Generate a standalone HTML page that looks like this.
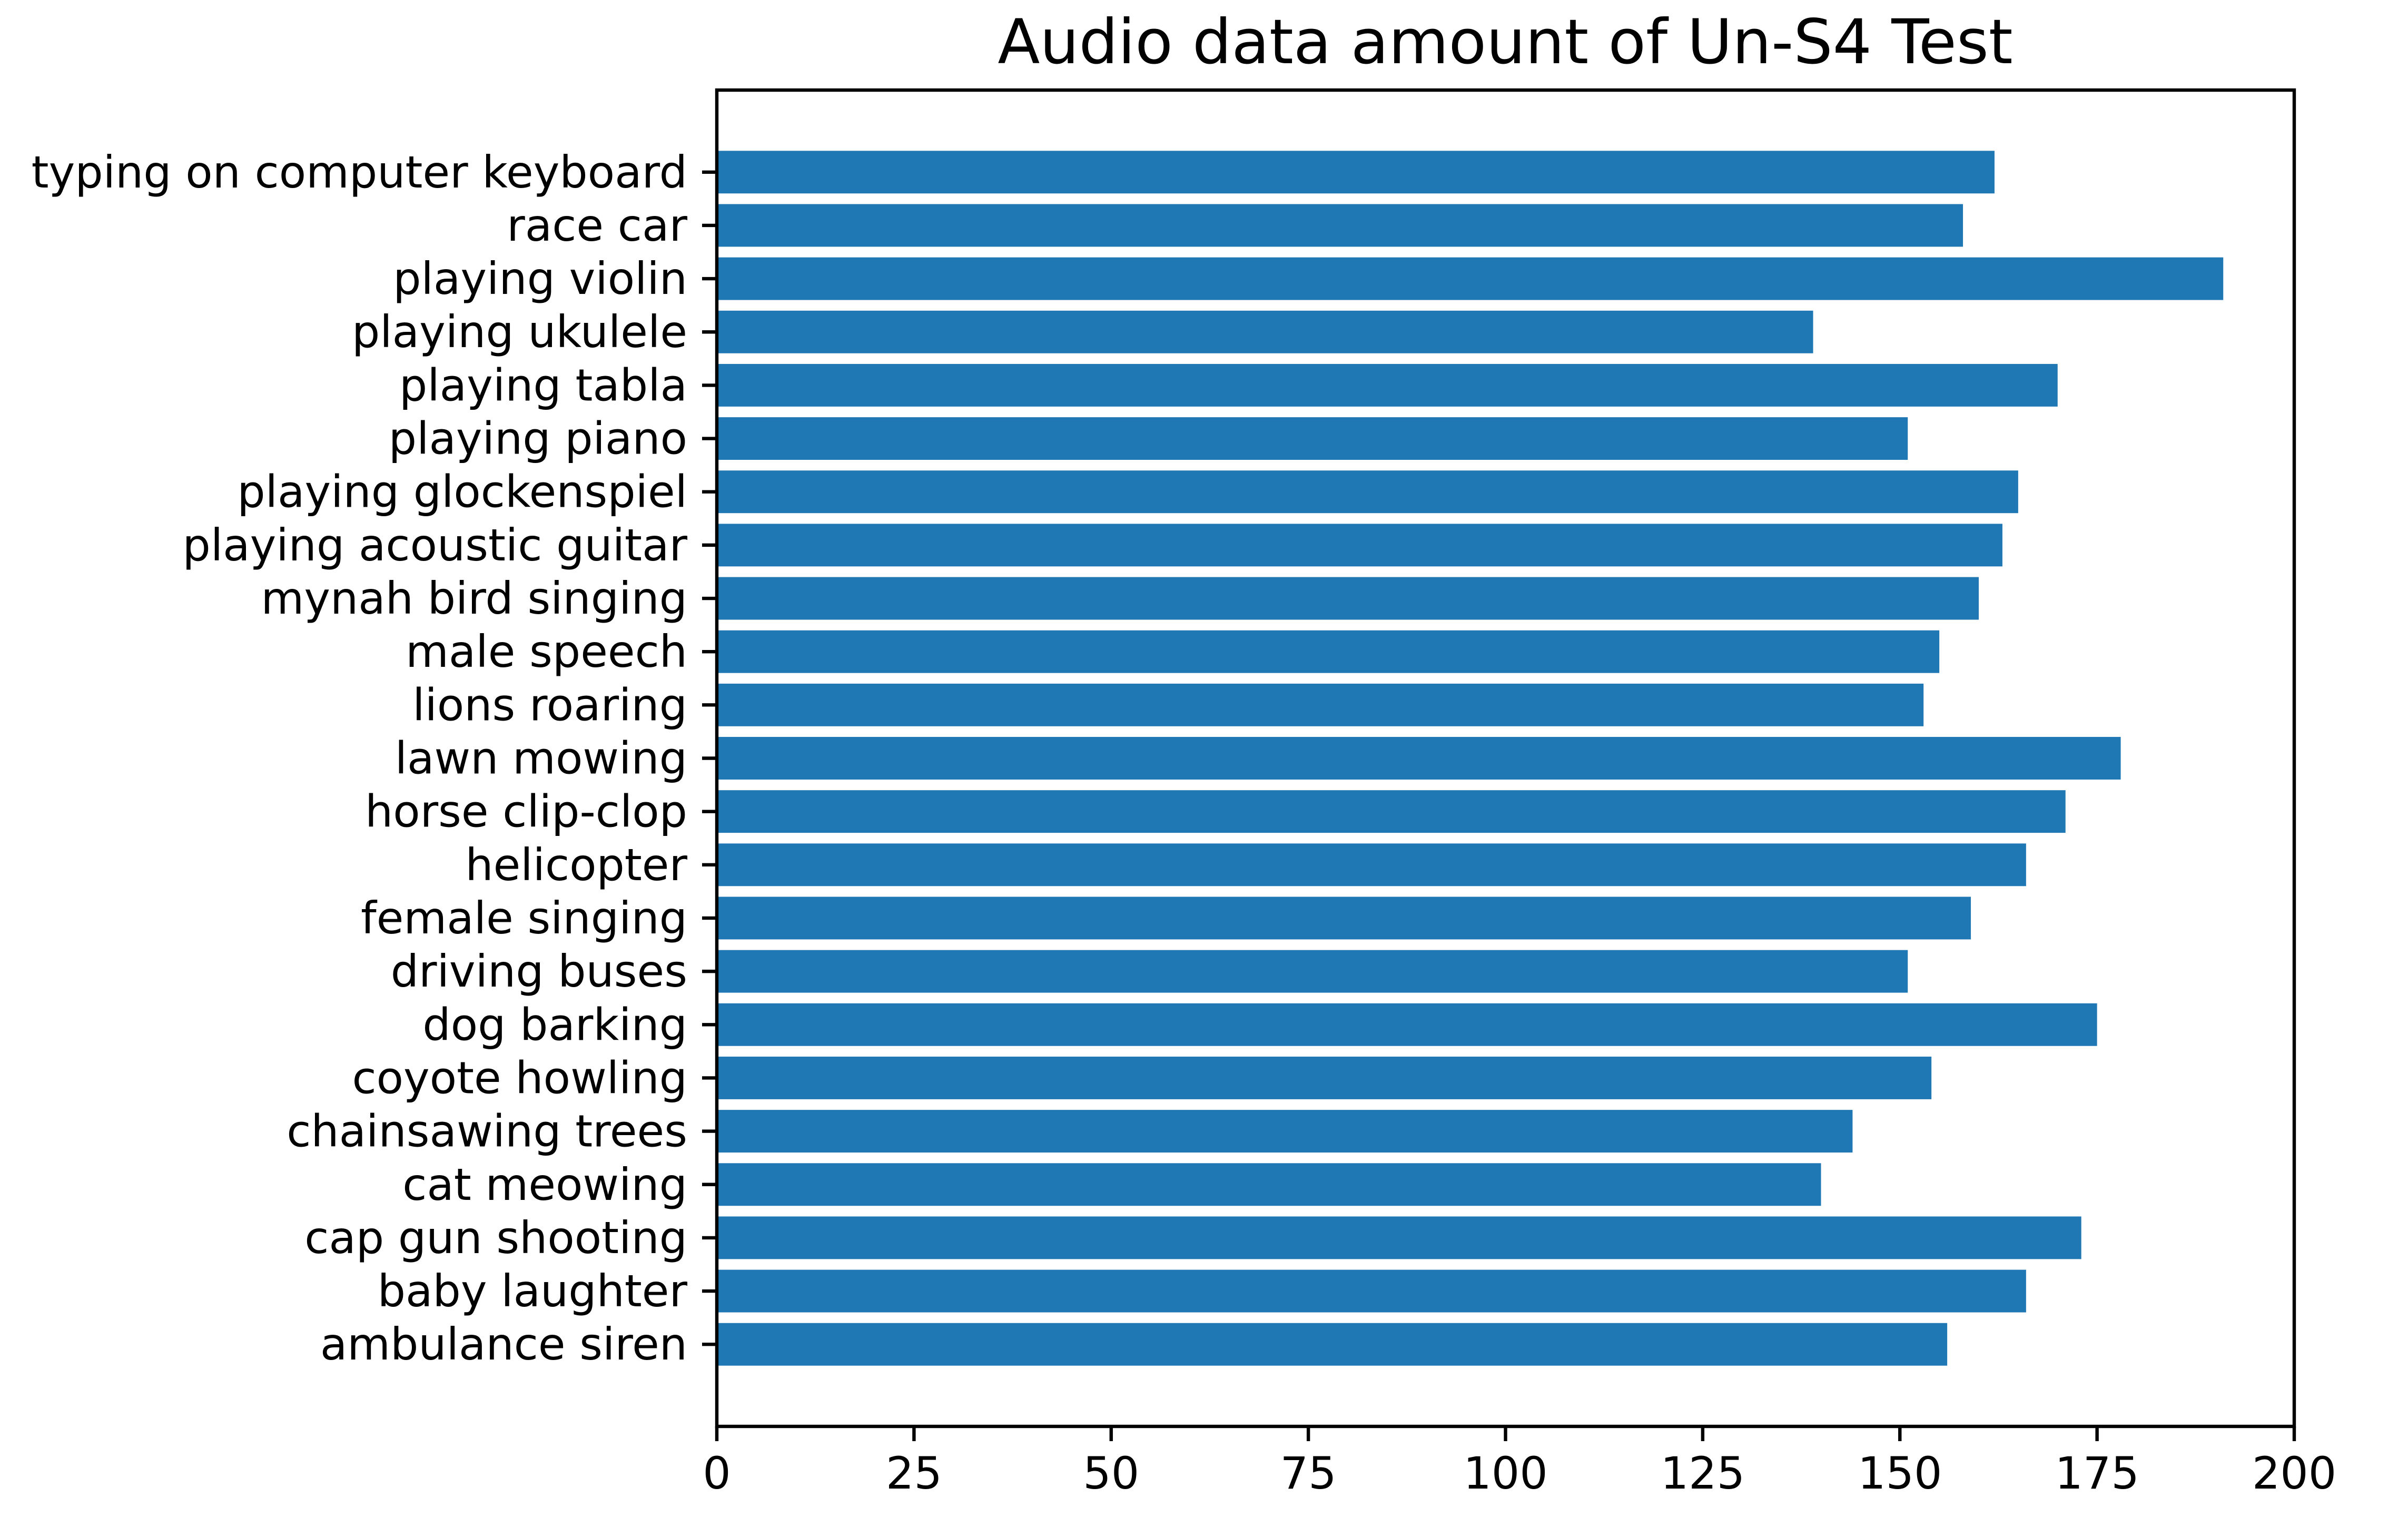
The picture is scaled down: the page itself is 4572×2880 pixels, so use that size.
<!DOCTYPE html>
<html><head><meta charset="utf-8">
<style>html,body{margin:0;padding:0;background:#fff}svg{display:block}</style>
</head><body>
<svg id="chart" width="4572" height="2880" viewBox="0 0 4572 2880" xmlns="http://www.w3.org/2000/svg" font-family="'DejaVu Sans','Liberation Sans',sans-serif">
<rect x="0" y="0" width="4572" height="2880" fill="#fff"/>
<text x="2858" y="120" font-size="117" text-anchor="middle" fill="#000">Audio data amount of Un-S4 Test</text>
<g id="bars"></g>
<g id="yticks"></g>
<g id="xticks"></g>
<rect x="1361" y="171" width="2995" height="2537" fill="none" stroke="#000" stroke-width="6.4"/>
</svg>
<script>
const categories = ["ambulance siren","baby laughter","cap gun shooting","cat meowing","chainsawing trees","coyote howling","dog barking","driving buses","female singing","helicopter","horse clip-clop","lawn mowing","lions roaring","male speech","mynah bird singing","playing acoustic guitar","playing glockenspiel","playing piano","playing tabla","playing ukulele","playing violin","race car","typing on computer keyboard"];
const values = [156,166,173,140,144,154,175,151,159,166,171,178,153,155,160,163,165,151,170,139,191,158,162];
const xTicks = [0,25,50,75,100,125,150,175,200];

const NS = "http://www.w3.org/2000/svg";
const L = 1361, R = 4356, T = 171, B = 2708;
const xMin = 0, xMax = 200;
const n = categories.length;
const yMin = -0.4 - 0.05 * (n - 1 + 0.8), yMax = (n - 1) + 0.4 + 0.05 * (n - 1 + 0.8);
function sx(v){ return L + (v - xMin) / (xMax - xMin) * (R - L); }
function sy(v){ return B - (v - yMin) / (yMax - yMin) * (B - T); }
function mk(tag, attrs, parent){ const e = document.createElementNS(NS, tag); for (const k in attrs) e.setAttribute(k, attrs[k]); parent.appendChild(e); return e; }

const gb = document.getElementById('bars');
const gy = document.getElementById('yticks');
const gx = document.getElementById('xticks');

categories.forEach((c, i) => {
  const y0 = sy(i + 0.4), y1 = sy(i - 0.4);
  const r = mk('rect', {x: sx(0), y: y0, width: sx(values[i]) - sx(0), height: y1 - y0, fill: '#1f77b4'}, gb);
  
  
  const yc = sy(i);
  const t = mk('line', {x1: L - 28, x2: L, y1: yc, y2: yc, stroke: '#000', 'stroke-width': 6.4}, gy);
  
  
  const lb = mk('text', {x: L - 56, y: yc, 'font-size': 84, 'text-anchor': 'end', 'dominant-baseline': 'central', fill: '#000'}, gy);
  lb.textContent = c;
  
  
});

xTicks.forEach(v => {
  const x = sx(v);
  const t = mk('line', {x1: x, x2: x, y1: B, y2: B + 28, stroke: '#000', 'stroke-width': 6.4}, gx);
  
  
  const lb = mk('text', {x: x, y: B + 56 + 62, 'font-size': 84, 'text-anchor': 'middle', fill: '#000'}, gx);
  lb.textContent = String(v);
  
  
});
</script>
</body></html>
